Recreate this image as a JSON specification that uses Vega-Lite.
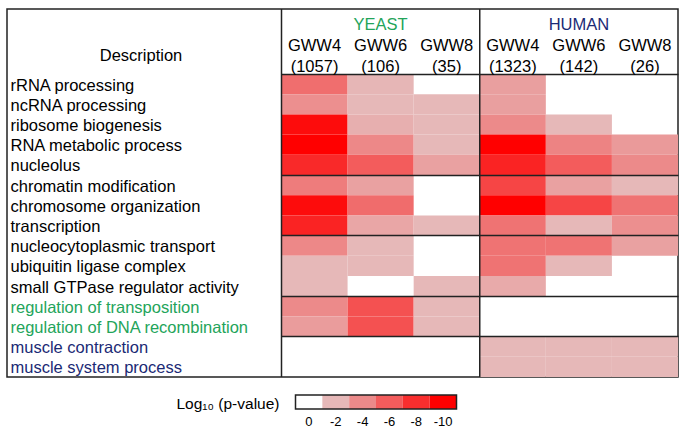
{
  "$schema": "https://vega.github.io/schema/vega-lite/v6.json",
  "width": 671,
  "height": 368,
  "autosize": {"type": "none"},
  "padding": {"left": 7, "top": 9, "right": 7, "bottom": 53},
  "config": {"font": "Liberation Sans", "view": {"stroke": "#222", "strokeWidth": 1.5}},
  "layer": [
    {
      "data": {"values": [
        {"term": "rRNA processing", "organism": "YEAST", "sample": "GWW4 (1057)", "logp": -5.2},
        {"term": "ncRNA processing", "organism": "YEAST", "sample": "GWW4 (1057)", "logp": -3.8},
        {"term": "ribosome biogenesis", "organism": "YEAST", "sample": "GWW4 (1057)", "logp": -9.5},
        {"term": "RNA metabolic process", "organism": "YEAST", "sample": "GWW4 (1057)", "logp": -10},
        {"term": "nucleolus", "organism": "YEAST", "sample": "GWW4 (1057)", "logp": -8.2},
        {"term": "chromatin modification", "organism": "YEAST", "sample": "GWW4 (1057)", "logp": -4.6},
        {"term": "chromosome organization", "organism": "YEAST", "sample": "GWW4 (1057)", "logp": -9.5},
        {"term": "transcription", "organism": "YEAST", "sample": "GWW4 (1057)", "logp": -8.5},
        {"term": "nucleocytoplasmic transport", "organism": "YEAST", "sample": "GWW4 (1057)", "logp": -4.1},
        {"term": "ubiquitin ligase complex", "organism": "YEAST", "sample": "GWW4 (1057)", "logp": -2},
        {"term": "small GTPase regulator activity", "organism": "YEAST", "sample": "GWW4 (1057)", "logp": -2},
        {"term": "regulation of transposition", "organism": "YEAST", "sample": "GWW4 (1057)", "logp": -4},
        {"term": "regulation of DNA recombination", "organism": "YEAST", "sample": "GWW4 (1057)", "logp": -3.2},
        {"term": "rRNA processing", "organism": "YEAST", "sample": "GWW6 (106)", "logp": -2.1},
        {"term": "ncRNA processing", "organism": "YEAST", "sample": "GWW6 (106)", "logp": -2},
        {"term": "ribosome biogenesis", "organism": "YEAST", "sample": "GWW6 (106)", "logp": -2.4},
        {"term": "RNA metabolic process", "organism": "YEAST", "sample": "GWW6 (106)", "logp": -4.1},
        {"term": "nucleolus", "organism": "YEAST", "sample": "GWW6 (106)", "logp": -6},
        {"term": "chromatin modification", "organism": "YEAST", "sample": "GWW6 (106)", "logp": -3},
        {"term": "chromosome organization", "organism": "YEAST", "sample": "GWW6 (106)", "logp": -5.3},
        {"term": "transcription", "organism": "YEAST", "sample": "GWW6 (106)", "logp": -2.8},
        {"term": "nucleocytoplasmic transport", "organism": "YEAST", "sample": "GWW6 (106)", "logp": -2},
        {"term": "ubiquitin ligase complex", "organism": "YEAST", "sample": "GWW6 (106)", "logp": -2},
        {"term": "regulation of transposition", "organism": "YEAST", "sample": "GWW6 (106)", "logp": -6.5},
        {"term": "regulation of DNA recombination", "organism": "YEAST", "sample": "GWW6 (106)", "logp": -6.5},
        {"term": "ncRNA processing", "organism": "YEAST", "sample": "GWW8 (35)", "logp": -2},
        {"term": "ribosome biogenesis", "organism": "YEAST", "sample": "GWW8 (35)", "logp": -2},
        {"term": "RNA metabolic process", "organism": "YEAST", "sample": "GWW8 (35)", "logp": -2},
        {"term": "nucleolus", "organism": "YEAST", "sample": "GWW8 (35)", "logp": -3},
        {"term": "transcription", "organism": "YEAST", "sample": "GWW8 (35)", "logp": -2},
        {"term": "small GTPase regulator activity", "organism": "YEAST", "sample": "GWW8 (35)", "logp": -2},
        {"term": "regulation of transposition", "organism": "YEAST", "sample": "GWW8 (35)", "logp": -2},
        {"term": "regulation of DNA recombination", "organism": "YEAST", "sample": "GWW8 (35)", "logp": -2},
        {"term": "rRNA processing", "organism": "HUMAN", "sample": "GWW4 (1323)", "logp": -3.1},
        {"term": "ncRNA processing", "organism": "HUMAN", "sample": "GWW4 (1323)", "logp": -3.1},
        {"term": "ribosome biogenesis", "organism": "HUMAN", "sample": "GWW4 (1323)", "logp": -4},
        {"term": "RNA metabolic process", "organism": "HUMAN", "sample": "GWW4 (1323)", "logp": -10},
        {"term": "nucleolus", "organism": "HUMAN", "sample": "GWW4 (1323)", "logp": -8.5},
        {"term": "chromatin modification", "organism": "HUMAN", "sample": "GWW4 (1323)", "logp": -7},
        {"term": "chromosome organization", "organism": "HUMAN", "sample": "GWW4 (1323)", "logp": -10},
        {"term": "transcription", "organism": "HUMAN", "sample": "GWW4 (1323)", "logp": -5},
        {"term": "nucleocytoplasmic transport", "organism": "HUMAN", "sample": "GWW4 (1323)", "logp": -5},
        {"term": "ubiquitin ligase complex", "organism": "HUMAN", "sample": "GWW4 (1323)", "logp": -5},
        {"term": "small GTPase regulator activity", "organism": "HUMAN", "sample": "GWW4 (1323)", "logp": -2.6},
        {"term": "muscle contraction", "organism": "HUMAN", "sample": "GWW4 (1323)", "logp": -2},
        {"term": "muscle system process", "organism": "HUMAN", "sample": "GWW4 (1323)", "logp": -2},
        {"term": "ribosome biogenesis", "organism": "HUMAN", "sample": "GWW6 (142)", "logp": -2},
        {"term": "RNA metabolic process", "organism": "HUMAN", "sample": "GWW6 (142)", "logp": -4.3},
        {"term": "nucleolus", "organism": "HUMAN", "sample": "GWW6 (142)", "logp": -6},
        {"term": "chromatin modification", "organism": "HUMAN", "sample": "GWW6 (142)", "logp": -3},
        {"term": "chromosome organization", "organism": "HUMAN", "sample": "GWW6 (142)", "logp": -7},
        {"term": "transcription", "organism": "HUMAN", "sample": "GWW6 (142)", "logp": -2},
        {"term": "nucleocytoplasmic transport", "organism": "HUMAN", "sample": "GWW6 (142)", "logp": -5},
        {"term": "ubiquitin ligase complex", "organism": "HUMAN", "sample": "GWW6 (142)", "logp": -2},
        {"term": "muscle contraction", "organism": "HUMAN", "sample": "GWW6 (142)", "logp": -2},
        {"term": "muscle system process", "organism": "HUMAN", "sample": "GWW6 (142)", "logp": -2},
        {"term": "RNA metabolic process", "organism": "HUMAN", "sample": "GWW8 (26)", "logp": -3.3},
        {"term": "nucleolus", "organism": "HUMAN", "sample": "GWW8 (26)", "logp": -4},
        {"term": "chromatin modification", "organism": "HUMAN", "sample": "GWW8 (26)", "logp": -2},
        {"term": "chromosome organization", "organism": "HUMAN", "sample": "GWW8 (26)", "logp": -5},
        {"term": "transcription", "organism": "HUMAN", "sample": "GWW8 (26)", "logp": -3.8},
        {"term": "nucleocytoplasmic transport", "organism": "HUMAN", "sample": "GWW8 (26)", "logp": -3},
        {"term": "muscle contraction", "organism": "HUMAN", "sample": "GWW8 (26)", "logp": -2},
        {"term": "muscle system process", "organism": "HUMAN", "sample": "GWW8 (26)", "logp": -2}
      ]},
      "mark": {"type": "rect"},
      "encoding": {
        "x": {
          "field": "sample", "type": "nominal",
          "scale": {"domain": ["GWW4 (1057)", "GWW6 (106)", "GWW8 (35)", "GWW4 (1323)", "GWW6 (142)", "GWW8 (26)"], "range": [274.5, 671], "paddingInner": 0, "paddingOuter": 0, "round": false},
          "axis": {"orient": "top", "title": null, "ticks": false, "tickSize": 0, "domain": false, "grid": false, "labelAngle": 0, "labelExpr": "split(datum.label, ' ')", "labelLineHeight": 21, "labelPadding": -41, "labelBaseline": "alphabetic", "labelFontSize": 16.5, "labelColor": "#000", "labelOverlap": false}
        },
        "y": {
          "field": "term", "type": "nominal",
          "scale": {"domain": ["rRNA processing", "ncRNA processing", "ribosome biogenesis", "RNA metabolic process", "nucleolus", "chromatin modification", "chromosome organization", "transcription", "nucleocytoplasmic transport", "ubiquitin ligase complex", "small GTPase regulator activity", "regulation of transposition", "regulation of DNA recombination", "muscle contraction", "muscle system process"], "range": [65, 368], "paddingInner": 0, "paddingOuter": 0, "round": false},
          "axis": {
            "orient": "left", "title": "Description", "titleAngle": 0, "titleX": 133.5, "titleY": 51, "titleAlign": "center", "titleBaseline": "alphabetic", "titleFontWeight": "normal", "titleFontSize": 16.5, "titleColor": "#000",
            "ticks": false, "tickSize": 0, "domain": false, "labelAlign": "left", "labelPadding": -3, "labelOffset": 1.5, "labelLimit": 300, "labelFontSize": 16.5, "labelOverlap": false,
            "labelColor": {"expr": "indexof(['regulation of transposition','regulation of DNA recombination'], datum.value) >= 0 ? '#23a45a' : (indexof(['muscle contraction','muscle system process'], datum.value) >= 0 ? '#1b2a75' : '#000000')"},
            "grid": true, "bandPosition": 0, "gridColor": "#222", "gridWidth": 1.5,
            "gridOpacity": {"expr": "indexof(['rRNA processing','chromatin modification','nucleocytoplasmic transport','regulation of transposition','muscle contraction'], datum.value) >= 0 ? 1 : 0"},
            "zindex": 1
          }
        },
        "color": {
          "field": "logp", "type": "quantitative",
          "scale": {"domain": [0, -2, -10], "range": ["#ffffff", "#e6b8b8", "#ff0000"], "interpolate": "rgb"},
          "legend": null
        }
      }
    },
    {
      "data": {"values": [{"organism": "YEAST"}, {"organism": "HUMAN"}]},
      "mark": {"type": "rule", "color": "#222", "strokeWidth": 1.5},
      "encoding": {
        "x": {
          "field": "organism", "type": "nominal", "bandPosition": 0,
          "scale": {"domain": ["YEAST", "HUMAN"], "range": [274.5, 671], "paddingInner": 0, "paddingOuter": 0, "round": false},
          "axis": {"orient": "top", "title": null, "ticks": false, "tickSize": 0, "domain": false, "grid": false, "labelAngle": 0, "labelPadding": -20, "labelBaseline": "alphabetic", "labelFontSize": 16.5, "labelColor": {"expr": "datum.value == 'YEAST' ? '#23a45a' : '#1b2a75'"}}
        }
      }
    },
    {
      "data": {"values": [
        {"key": "Log₁₀ (p-value)", "level": 0},
        {"key": "Log₁₀ (p-value)", "level": -2},
        {"key": "Log₁₀ (p-value)", "level": -4},
        {"key": "Log₁₀ (p-value)", "level": -6},
        {"key": "Log₁₀ (p-value)", "level": -8},
        {"key": "Log₁₀ (p-value)", "level": -10}
      ]},
      "mark": {"type": "rect"},
      "encoding": {
        "x": {
          "field": "level", "type": "ordinal",
          "scale": {"domain": [0, -2, -4, -6, -8, -10], "range": [288.5, 449.5], "paddingInner": 0, "paddingOuter": 0, "round": false},
          "axis": {"orient": "bottom", "title": null, "ticks": false, "tickSize": 0, "domain": false, "grid": false, "labelAngle": 0, "labelPadding": 48, "labelBaseline": "alphabetic", "labelFontSize": 13, "labelColor": "#000"}
        },
        "y": {
          "field": "key", "type": "nominal",
          "scale": {"range": [386, 400], "paddingInner": 0, "paddingOuter": 0, "round": false},
          "axis": {"orient": "left", "title": null, "ticks": false, "tickSize": 0, "domain": false, "grid": false, "labelAlign": "right", "labelBaseline": "middle", "labelPadding": -272, "labelOffset": 1.5, "labelLimit": 200, "labelFontSize": 15.5, "labelColor": "#000"}
        },
        "color": {"field": "level", "type": "quantitative", "legend": null}
      }
    },
    {
      "data": {"values": [{"key": "Log₁₀ (p-value)"}]},
      "mark": {"type": "rect", "filled": false, "color": "#222", "strokeWidth": 1.5},
      "encoding": {
        "x": {
          "field": "key", "type": "nominal",
          "scale": {"range": [288.5, 449.5], "paddingInner": 0, "paddingOuter": 0, "round": false},
          "axis": null
        },
        "y": {
          "field": "key", "type": "nominal",
          "scale": {"range": [386, 400], "paddingInner": 0, "paddingOuter": 0, "round": false},
          "axis": null
        }
      }
    }
  ],
  "resolve": {"scale": {"x": "independent", "y": "independent"}, "axis": {"x": "independent", "y": "independent"}}
}
